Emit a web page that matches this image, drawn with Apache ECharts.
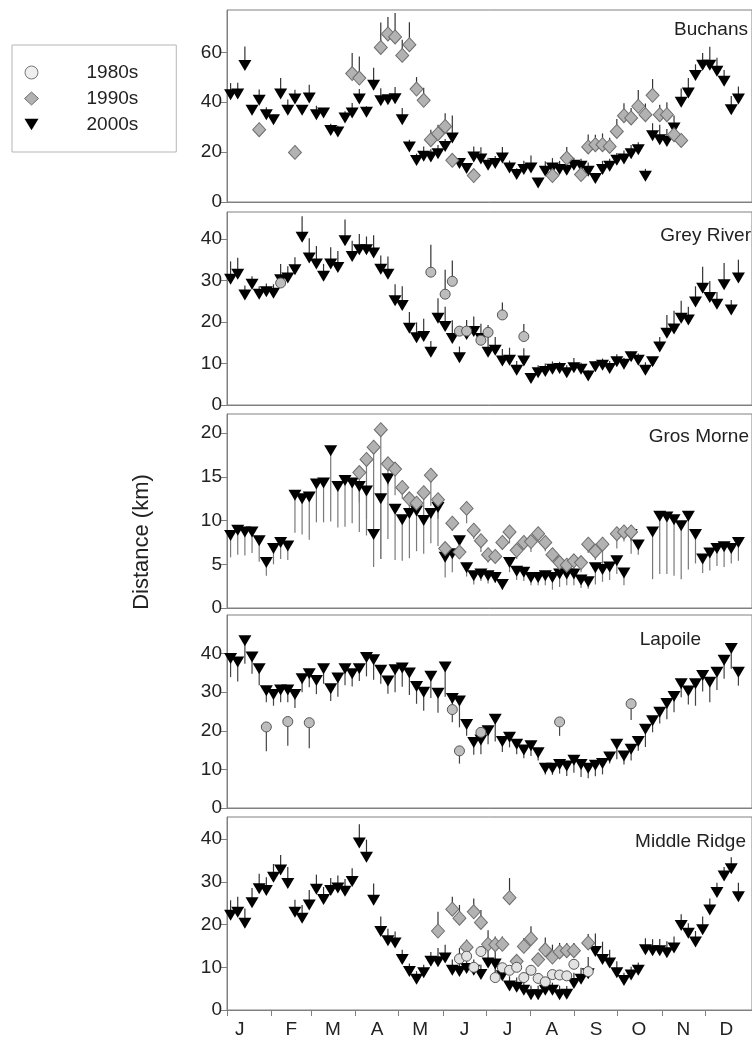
<!DOCTYPE html>
<html>
<head>
<meta charset="utf-8">
<script src="https://cdn.jsdelivr.net/npm/echarts@6/dist/echarts.min.js"></script>
<style>
html,body{margin:0;padding:0;background:#fff;}
#chart{width:752px;height:1050px;}
</style>
</head>
<body>
<div id="chart"></div>
<script>
// ---------- DATA (pentad index k -> day 2.5 + 5k) ----------
const monthTickDays = [0,31,59,90,120,151,181,212,243,273,304,334];
const monthLabelDays = [9,45,74,105,135,166,196,227,258,288,319,349];
const monthLabels = ['J','F','M','A','M','J','J','A','S','O','N','D'];

const panelNames = ['Buchans','Grey River','Gros Morne','Lapoile','Middle Ridge'];
const yTicksBuchans = [0,20,40,60];
const yTicksGrey = [0,10,20,30,40];
const yTicksGros = [0,5,10,15,20];
const yTicksLapoile = [0,10,20,30,40];
const yTicksMiddle = [0,10,20,30,40];

// Buchans
const buchans2000v = [43.0,43.3,54.7,36.8,40.8,35.0,33.0,43.3,36.8,41.3,36.8,41.7,35.0,35.7,28.7,28.1,33.7,35.7,41.3,36.0,46.8,40.6,41.0,41.4,33.0,22.1,16.6,18.3,18.0,19.4,22.3,25.7,15.4,13.4,18.0,17.2,14.7,15.4,17.6,13.6,11.0,13.0,13.6,7.6,12.3,13.6,13.0,12.7,14.7,14.3,12.3,9.4,13.0,14.3,16.7,17.2,19.4,21.0,10.3,26.6,25.0,24.3,29.7,40.0,43.7,50.7,54.8,54.8,52.4,48.4,37.0,41.3];
const buchans2000e = [4.7,4.5,7.7,1.6,4.3,3,2,6.4,4.3,3.7,1.6,5.3,3.6,1.5,2.7,2.5,2.7,4,4,2.4,7,5,1.3,4.7,4.7,2.9,2.8,4,3.2,3.5,3,9,2.3,2,4.3,4.8,3,3,4.5,3,2.5,3.5,5,0,4,4,3.5,4.5,3,3,3.5,2,3.5,3,3,3.5,3.5,3,3,5,6,5,5,5.5,6,4.5,5,7.5,5.5,4.5,5.5,5];
const buchans1990k = [4,9,17,18,21,22,23,24,25,26,27,28,29,30,31,34,45,47,49,50,51,52,53,54,55,56,57,58,59,60,61,62,63];
const buchans1990v = [29.0,19.9,51.5,49.7,62.0,67.4,66.2,58.8,63.1,45.3,40.8,25.0,27.4,30.3,16.7,10.6,10.6,17.6,11.0,22.1,23.0,23.0,22.3,28.3,34.6,33.7,38.4,35.0,42.8,35.0,35.0,27.0,24.7];
const buchans1990e = [0,2.4,8.3,8.7,10,6.8,9.6,6.3,9,4.8,5,4,3.6,5.3,0,0,2,4.5,2,5,4,4.5,3.5,5,5,4,6.5,4.5,6.5,4,5,3,0];

// Grey River
const grey2000v = [30.3,31.5,26.5,29.1,26.7,27.3,26.9,30.2,30.6,32.6,40.4,35.4,34.0,31.0,34.0,33.1,39.6,35.8,37.4,37.4,36.6,32.7,31.5,25.1,24.0,18.5,16.2,16.5,12.7,20.9,18.9,16.0,11.4,17.0,17.7,16.0,12.7,13.2,10.6,10.8,8.4,10.6,6.4,7.8,8.1,8.6,8.8,7.8,9.0,8.6,7.0,9.2,9.6,8.8,10.4,9.8,11.6,10.8,8.4,10.4,14.0,17.3,18.3,20.9,20.5,24.8,28.1,25.9,24.3,29.0,22.9,30.6];
const grey2000e = [4.3,4.0,2.3,1.9,1.9,2,2.2,3.8,2.8,3,5.1,4.8,4.3,3,4,4,5.1,3.8,3.8,3.2,4.3,3.3,4.3,4,4.6,3.9,3.7,4.3,2.7,4.8,4.8,4.4,2.7,3.5,3.6,3.6,5,3.2,2.9,3,2.2,3.1,1.2,1.8,1.9,1.9,1.6,1.8,2.3,1.6,1.4,1.4,1.6,1.8,1.8,1.6,1.2,1.6,1.9,1.2,2.4,4.4,4.4,4.2,3.2,3.8,5.2,4,2.9,5.2,2.4,4.4];
const grey1980k = [7,28,30,31,32,33,35,36,38,41];
const grey1980v = [29.4,32.0,26.7,29.8,17.8,17.8,15.6,17.5,21.7,16.5];
const grey1980e = [0,6.6,5.9,5,0,0,0,1.8,3,3];

// Gros Morne
const gros2000v = [8.3,8.9,8.7,8.7,7.7,5.2,6.8,7.5,7.1,12.9,12.5,12.7,14.2,14.3,18.0,13.9,14.6,14.3,13.9,13.4,8.4,12.5,14.8,11.3,10.1,10.8,11.1,10.0,10.8,11.5,5.8,6.2,7.7,4.6,3.7,3.9,3.7,3.5,2.7,5.2,4.2,4.1,3.5,3.5,3.7,3.5,3.9,3.9,3.9,3.2,3.0,4.6,4.4,4.7,5.4,4.0,8.4,7.2,null,8.7,10.5,10.4,10.1,9.4,10.5,8.4,5.6,6.3,6.8,7.0,6.8,7.5];
const gros2000e = [2.5,2.8,2.7,2.4,2.4,1.5,1.8,1.9,1.6,4.3,4.1,4.9,4.4,4.5,8.1,4.7,5.3,4.6,5.2,5.1,3.7,6.9,6.9,5.8,4.7,5.1,4.6,3.8,3.4,4.4,2.3,2.1,1.8,1,1,0.8,0.9,0.6,0.6,1.1,1,1,0.9,0.9,1.1,1.4,1.5,1.3,1.3,0.9,0.8,1.9,1.4,1.5,1.5,1.4,2.2,1.1,null,5.4,6.6,6.5,6.4,6.1,6.1,3.3,1.6,2,2,2.3,1.7,2.1];
const gros1990k = [18,19,20,21,22,23,24,25,26,27,28,29,30,31,32,33,34,35,36,37,38,39,40,41,42,43,44,45,46,47,48,49,50,51,52,54,55,56];
const gros1990v = [15.5,17.0,18.4,20.4,16.5,15.9,13.8,12.5,12.0,13.2,15.2,12.4,6.8,9.7,6.4,11.4,8.9,7.7,6.1,5.9,7.5,8.7,6.6,7.5,7.6,8.5,7.5,6.1,5.2,4.9,5.4,5.2,7.3,6.5,7.3,8.5,8.7,8.7];
const gros1990e = [3.4,6.8,9.9,14.8,2.5,3,1.3,1.1,0.7,2.7,3.5,2.2,0,0.9,0.6,1.7,1,1.3,0.9,0,0.8,1.3,1,0.8,1.2,1,1,0.8,0.6,0.6,1.1,1.1,1,1,2.5,1.7,1.1,1.1];

// Lapoile
const lapoile2000v = [38.7,37.8,43.3,39.1,36.1,30.4,29.4,30.6,30.6,29.4,33.5,34.8,33.0,36.1,30.9,33.7,36.1,34.8,36.1,39.0,38.4,35.7,32.9,35.8,36.3,35.0,31.5,30.0,34.1,29.7,36.5,28.4,27.7,21.6,17.0,17.6,20.0,23.0,17.2,18.3,16.5,15.0,16.1,14.3,10.3,10.3,11.3,10.9,12.4,11.3,10.3,11.1,11.5,13.2,16.5,13.5,15.2,17.2,20.4,22.6,24.8,27.1,28.9,32.2,30.3,32.2,34.3,32.6,35.2,38.3,41.3,35.2];
const lapoile2000e = [4.8,5,5.9,4.3,4.3,3,2.9,3.2,3.2,3.5,3.5,3.5,3.5,3.9,3.2,4.9,4.3,3.3,3.2,4.9,5.2,3.5,3.3,5.8,4.9,5.7,4.5,4.8,5.6,5,7.7,3.2,6.8,2.9,3.2,3.7,3.5,5.8,2.7,2.6,2.6,2.1,2.6,2,1.6,1.7,2.4,2.6,3.3,3.3,2.6,2.9,2.8,1.7,3.9,2.2,2.9,2.4,4.6,3,2.9,4.1,4.1,3.5,3.5,5.7,4.1,5.2,4.6,4.8,5.2,3.5];
const lapoile1980k = [5,8,11,31,32,35,46,56];
const lapoile1980v = [21.0,22.4,22.1,25.5,14.8,19.6,22.3,27.0];
const lapoile1980e = [6.3,6.3,6.6,3.3,3.3,0.9,3.6,4.2];

// Middle Ridge
const middle2000v = [22.2,22.9,20.3,25.1,28.4,28.0,31.1,32.8,29.6,22.9,21.5,24.6,28.3,25.9,28.0,28.6,27.8,30.1,39.1,35.8,25.7,18.4,16.2,15.7,11.8,9.0,7.2,8.7,11.4,11.3,12.2,9.3,9.0,9.7,9.3,8.3,11.0,10.8,8.0,5.6,5.3,4.6,3.6,3.6,4.6,4.6,3.6,3.7,6.2,7.2,8.5,13.7,11.8,11.0,8.7,6.9,8.2,9.3,14.1,13.9,13.9,13.4,14.5,19.8,18.0,15.9,18.8,23.4,27.5,31.4,33.1,26.5];
const middle2000e = [3.5,3.6,3.5,3.5,3.5,3.1,3.1,3.5,3.9,2.9,3.1,3.5,3.4,2.9,2.9,2.9,2.9,3.1,4.4,4.1,3.9,3.5,2.8,2.7,2.3,1.9,1.9,1.9,2.2,3.2,3.1,2.5,2.5,2.5,2.5,2.3,5.4,4.9,2.7,2.3,2.3,2.2,2.1,2.1,2.2,1.8,2.1,1.9,2.5,2.7,3.9,4.2,4.2,3.1,2.7,1.8,1.9,1.8,2.7,2.7,2.7,2.7,2.7,2.6,2.3,2.6,3.1,2.7,2.3,2.1,2.7,3.3];
const middle1990k = [29,31,32,33,34,35,36,37,38,39,40,41,42,43,44,45,46,47,48,50];
const middle1990v = [18.5,23.6,21.5,14.7,23.0,20.5,15.4,15.3,15.4,26.3,11.4,14.9,16.7,11.8,14.1,12.4,13.6,13.9,13.9,15.7];
const middle1990e = [4.5,2.9,3.1,1.8,3.1,2.9,3.3,1.9,1.8,4.6,1.5,1.9,2.9,0,2.9,2.9,2.1,1.8,1.8,2.1];
const middle1980k = [32,33,34,35,37,38,39,40,41,42,43,44,45,46,47,48,50];
const middle1980v = [12.0,12.6,10.0,13.7,7.6,9.9,9.3,10.0,7.6,9.3,7.4,6.6,8.3,8.2,8.0,10.7,9.0];
const middle1980e = [2.5,0,0,1.2,3,0,0,0,0,0,0,0,0,0,0,1.2,0];

// ---------- helpers ----------
const dayOf = k => 2.5 + 5 * k;
function fullData(vals, errs) {
  const out = [];
  vals.forEach((v, k) => { if (v != null) out.push([dayOf(k), v, errs[k]]); });
  return out;
}
function sparseData(ks, vals, errs) {
  return ks.map((k, i) => [dayOf(k), vals[i], errs[i]]);
}

// ---------- layout & styles ----------
const FONT = '"Liberation Sans", Arial, sans-serif';
const AXIS_C = '#808080';
const TEXT_C = '#222';
const layout = [
  {top: 10,  height: 192, max: 77, ticks: yTicksBuchans, dir:  1, barC: '#333', c80: '#bdbdbd', title: {x: 748, y: 30}},
  {top: 212, height: 193, max: 46.5, ticks: yTicksGrey,  dir:  1, barC: '#333', c80: '#bdbdbd', title: {x: 751, y: 236}},
  {top: 414, height: 194, max: 22.2, ticks: yTicksGros,  dir: -1, barC: '#7a7a7a', c80: '#bdbdbd', title: {x: 749, y: 437}},
  {top: 615, height: 193, max: 50, ticks: yTicksLapoile, dir: -1, barC: '#444', c80: '#bdbdbd', title: {x: 701, y: 640}},
  {top: 817, height: 193, max: 45.2, ticks: yTicksMiddle, dir:  1, barC: '#333', c80: '#e2e2e2', title: {x: 746, y: 842}}
];
const panelData = [
  {d2000: fullData(buchans2000v, buchans2000e), d1990: sparseData(buchans1990k, buchans1990v, buchans1990e), d1980: []},
  {d2000: fullData(grey2000v, grey2000e), d1990: [], d1980: sparseData(grey1980k, grey1980v, grey1980e)},
  {d2000: fullData(gros2000v, gros2000e), d1990: sparseData(gros1990k, gros1990v, gros1990e), d1980: []},
  {d2000: fullData(lapoile2000v, lapoile2000e), d1990: [], d1980: sparseData(lapoile1980k, lapoile1980v, lapoile1980e)},
  {d2000: fullData(middle2000v, middle2000e), d1990: sparseData(middle1990k, middle1990v, middle1990e), d1980: sparseData(middle1980k, middle1980v, middle1980e)}
];

const TRI = 'path://M0,0L12,0L6,10Z';
const grids = [], xAxes = [], yAxes = [], series = [], graphics = [];

function errSeries(i, data, dir, color) {
  return {
    type: 'custom', xAxisIndex: i, yAxisIndex: i, z: 1, silent: true,
    encode: {x: 0, y: 1},
    data: data,
    renderItem: function (params, api) {
      const x = api.value(0), v = api.value(1), e = api.value(2);
      if (!e) return null;
      const p0 = api.coord([x, v]);
      const p1 = api.coord([x, v + dir * e]);
      return {type: 'line', shape: {x1: p0[0], y1: p0[1], x2: p1[0], y2: p1[1]},
              style: {stroke: color, lineWidth: 1.2}};
    }
  };
}

layout.forEach((L, i) => {
  const last = i === layout.length - 1;
  grids.push({left: 227, right: -10, top: L.top, height: L.height,
              show: true, borderColor: AXIS_C, borderWidth: 1, backgroundColor: 'transparent'});
  xAxes.push({
    type: 'value', gridIndex: i, min: 0, max: 367,
    axisLine: {show: true, onZero: false, lineStyle: {color: AXIS_C, width: 1}},
    splitLine: {show: false},
    axisTick: last ? {show: true, length: 6, customValues: monthTickDays, lineStyle: {color: AXIS_C}} : {show: false},
    axisLabel: last ? {show: true, customValues: monthLabelDays, margin: 10,
      fontFamily: FONT, fontSize: 19, color: TEXT_C,
      formatter: v => monthLabels[monthLabelDays.indexOf(v)] || ''} : {show: false}
  });
  yAxes.push({
    type: 'value', gridIndex: i, min: 0, max: L.max,
    axisLine: {show: true, lineStyle: {color: AXIS_C, width: 1}},
    splitLine: {show: false},
    axisTick: {show: true, length: 6, customValues: L.ticks, lineStyle: {color: AXIS_C}},
    axisLabel: {show: true, customValues: L.ticks, margin: 5, fontFamily: FONT, fontSize: 19, color: TEXT_C}
  });
  const P = panelData[i];
  const allErr = P.d2000.concat(P.d1990, P.d1980);
  series.push(errSeries(i, allErr, L.dir, L.barC));
  series.push({name: '2000s', type: 'scatter', xAxisIndex: i, yAxisIndex: i, z: 3,
    symbol: TRI, symbolSize: [13, 11], data: P.d2000.map(d => [d[0], d[1]]),
    itemStyle: {color: '#000', opacity: 1}});
  if (P.d1990.length) series.push({name: '1990s', type: 'scatter', xAxisIndex: i, yAxisIndex: i, z: 4,
    symbol: 'diamond', symbolSize: [13, 14], data: P.d1990.map(d => [d[0], d[1]]),
    itemStyle: {color: '#b2b2b2', borderColor: '#6e6e6e', borderWidth: 1, opacity: 1}});
  if (P.d1980.length) series.push({name: '1980s', type: 'scatter', xAxisIndex: i, yAxisIndex: i, z: 5,
    symbol: 'circle', symbolSize: 10, data: P.d1980.map(d => [d[0], d[1]]),
    itemStyle: {color: L.c80, borderColor: '#555', borderWidth: 1, opacity: 1}});
  graphics.push({type: 'text', z: 10, style: {text: panelNames[i], x: L.title.x, y: L.title.y,
    align: 'right', verticalAlign: 'middle', fontFamily: FONT, fontSize: 19, fill: TEXT_C}});
});

graphics.push({type: 'text', z: 10, x: 142, y: 542, rotation: Math.PI / 2,
  style: {text: 'Distance (km)', x: 0, y: 0, align: 'center', verticalAlign: 'middle',
          fontFamily: FONT, fontSize: 22, fill: TEXT_C}});

const chart = echarts.init(document.getElementById('chart'), null, {renderer: 'canvas'});
chart.setOption({
  animation: false,
  backgroundColor: '#fff',
  grid: grids, xAxis: xAxes, yAxis: yAxes, series: series, graphic: graphics,
  legend: {
    orient: 'vertical', left: 12, top: 45,
    padding: [18, 38, 18, 12], itemGap: 7, itemWidth: 14, itemHeight: 13,
    borderColor: '#b5b5b5', borderWidth: 1, backgroundColor: '#fff',
    selectedMode: false,
    formatter: n => '{t|' + n + '}',
    textStyle: {fontFamily: FONT, fontSize: 19, color: TEXT_C, lineHeight: 19,
      rich: {t: {padding: [0, 0, 0, 43], fontFamily: FONT, fontSize: 19, color: TEXT_C, lineHeight: 19}}},
    data: [
      {name: '1980s', icon: 'circle', itemStyle: {color: '#eeeeee', borderColor: '#777', borderWidth: 1}},
      {name: '1990s', icon: 'diamond', itemStyle: {color: '#b2b2b2', borderColor: '#6e6e6e', borderWidth: 1}},
      {name: '2000s', icon: TRI, itemStyle: {color: '#000', borderWidth: 0}}
    ]
  }
});
</script>
</body>
</html>
